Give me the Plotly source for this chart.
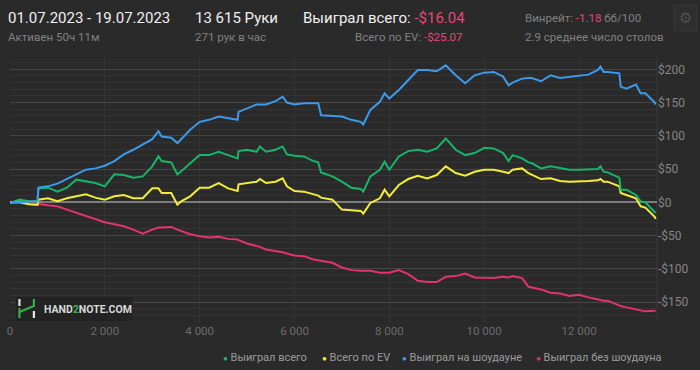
import plotly.graph_objects as go

hands = [0, 200, 400, 580, 600, 800, 1000, 1200, 1400, 1600, 1800, 2000, 2200, 2400, 2600, 2800,
         3000, 3130, 3200, 3400, 3530, 3600, 3800, 4000, 4200, 4400, 4600, 4800, 4820, 5000,
         5200, 5270, 5400, 5600, 5750, 5840, 6000, 6200, 6400, 6500, 6560, 6800, 7000, 7200,
         7400, 7450, 7600, 7800, 7900, 8000, 8200, 8400, 8600, 8800, 9000, 9190, 9400, 9600,
         9800, 10000, 10200, 10400, 10515, 10600, 10800, 10934, 11000, 11200, 11400, 11600,
         11800, 12000, 12200, 12400, 12453, 12520, 12600, 12850, 12880, 13000, 13200, 13300,
         13400, 13600, 13615]

showdown = [-1, 0, 1.5, 2, 22, 24, 28, 35, 41, 49, 51, 55, 62, 72, 79, 87,
            95, 107, 99, 97, 89, 94, 109, 121, 124, 129, 126, 124, 136, 141,
            147, 147, 147, 152, 159, 150, 147, 149, 149, 149, 131, 130, 129, 124,
            121, 117, 139, 151, 164, 156, 169, 184, 199, 199, 197, 206, 191, 179,
            191, 195, 196, 189, 176, 180, 186, 187, 187, 182, 191, 187,
            189, 190, 192, 199, 204, 196, 196, 194, 174, 171, 177, 164,
            164, 150, 147]
won_total = [-1, 4, 1.5, 2, 21, 22, 16, 22, 34, 31, 29, 24, 42, 41, 37, 39,
             54, 69, 62, 60, 42, 46, 59, 71, 71, 76, 71, 66, 77, 79,
             76, 84, 76, 79, 84, 72, 70, 69, 62, 60, 45, 39, 31, 22,
             20, 16, 39, 49, 61, 49, 69, 77, 79, 76, 81, 96, 79, 71,
             74, 82, 81, 74, 62, 71, 66, 60, 59, 51, 54, 51,
             49, 49, 50, 50, 54, 46, 45, 37, 19, 19, 11, 1.5,
             0, -14, -16.04]
ev_total = [0, 0, -3, -4, 4, 6, 1.5, 6, 9, 12, 7, 4, 9, 11, 6, 6,
            21, 21, 14, 14, -3.5, 1, 9, 22, 22, 29, 21, 17, 27, 29,
            31, 35, 29, 31, 36, 24, 17, 16, 12, 10, 7, 4, -11, -12.5,
            -13, -17, -1, 6, 19, 9, 26, 35, 40, 36, 41, 54, 44, 40,
            46, 49, 49, 46, 44, 49, 51, 44, 42, 35, 36, 32,
            31, 31, 32, 33, 35, 31, 31, 24, 14, 11, 6, -6,
            -8, -22, -25.07]
non_showdown = [0, 1.5, -1, -2, -2.5, -4.5, -6, -11, -16, -21, -26, -30, -33, -36, -41, -47,
                -41, -38, -38, -37, -41, -43, -48, -51, -53, -52, -55, -56, -57, -62,
                -66, -67, -71, -73, -75, -77, -80, -81, -86, -87, -88, -91, -98, -102,
                -103, -103, -103, -106, -106, -106, -102, -108, -118, -120, -120, -112, -111, -107,
                -113, -113, -114, -112, -113, -111, -114, -127, -128, -131, -136, -137,
                -141, -139, -143, -147, -147, -148, -148, -155, -156, -158, -161, -162,
                -164, -163, -163]

series_names = ["Выиграл всего", "Всего по EV", "Выиграл на шоудауне", "Выиграл без шоудауна"]
series_colors = ["#17b46a", "#f2ec3a", "#3c9aea", "#e3336f"]
series_values = [won_total, ev_total, showdown, non_showdown]

y_ticks = [-150, -100, -50, 0, 50, 100, 150, 200]
y_ticktext = ["-$150", "-$100", "-$50", "$0", "$50", "$100", "$150", "$200"]
x_ticks = [0, 2000, 4000, 6000, 8000, 10000, 12000]
x_ticktext = ["0", "2 000", "4 000", "6 000", "8 000", "10 000", "12 000"]

BG = "#2a2a2a"
L, R, T, B = 7, 657, 56, 322
W, H = 700, 370


def fx(px):
    return (px - L) / (R - L)


def fy(py):
    return (B - py) / (B - T)


fig = go.Figure()
for idx in [3, 1, 0, 2]:
    fig.add_trace(go.Scatter(x=hands, y=series_values[idx], mode="lines",
                             line=dict(color=series_colors[idx], width=2),
                             name=series_names[idx], showlegend=False,
                             hoverinfo="skip"))

fig.update_layout(
    width=W, height=H, autosize=False,
    margin=dict(l=L, r=W - R, t=T, b=H - B, pad=0),
    paper_bgcolor=BG, plot_bgcolor=BG,
    font=dict(family="Roboto", color="#8a8a8a", size=11),
    showlegend=False,
)
fig.update_xaxes(range=[0, 13645], tickvals=x_ticks, ticktext=x_ticktext,
                 showgrid=True, gridcolor="#353535", gridwidth=1,
                 zeroline=False, showline=False, ticks="",
                 tickfont=dict(color="#6a6a6a", size=11.5))
fig.update_yaxes(range=[-180, 220], side="right", tickvals=y_ticks, ticktext=y_ticktext,
                 showgrid=True, gridcolor="#464646", gridwidth=1,
                 minor=dict(dtick=10, tick0=0, showgrid=True, gridcolor="#343434", gridwidth=1),
                 zeroline=True, zerolinecolor="#7c7c7c", zerolinewidth=2,
                 showline=False, ticks="",
                 tickfont=dict(color="#858585", size=12))

fig.add_shape(type="line", xref="paper", yref="paper", x0=1, x1=1, y0=0, y1=1,
              line=dict(color="#383838", width=1), layer="below")

annotations = []


def ann(text, px, py, size, color="#8a8a8a", anchor="left"):
    annotations.append(dict(text=text, x=fx(px), y=fy(py), xref="paper", yref="paper",
                            xanchor=anchor, yanchor="middle", showarrow=False,
                            font=dict(family="Roboto", size=size, color=color)))


PINK = "#e8457a"
ann("01.07.2023 - 19.07.2023", 3, 18, 15, "#f0f0f0")
ann("Активен 50ч 11м", 3, 37, 11.5, "#808080")
ann("13 615 Руки", 191, 18, 15, "#f0f0f0")
ann("271 рук в час", 191, 37, 11.5, "#808080")
ann("Выиграл всего: <span style='color:%s'>-$16.04</span>" % PINK, 299, 18, 15, "#f0f0f0")
ann("Всего по EV: <span style='color:%s'>-$25.07</span>" % PINK, 464, 37, 11.5, "#808080", "right")
ann("Винрейт: <span style='color:%s'>-1.18</span> бб/100" % PINK, 522, 18, 11.5, "#808080")
ann("2.9 среднее число столов", 522, 37, 11.5, "#808080")

legend_pos = [222, 321, 402, 536]
for name, color, px in zip(series_names, series_colors, legend_pos):
    ann("<span style='color:%s;font-size:8px'>●</span> %s" % (color, name), px - 3, 357, 11, "#9a9a9a")

fig.add_shape(type="rect", xref="paper", yref="paper", x0=fx(674), x1=fx(697), y0=fy(31), y1=fy(5),
              line=dict(color="#363636", width=1), fillcolor="#2e2e2e")
annotations.append(dict(text="⚙", x=fx(685.5), y=fy(18), xref="paper", yref="paper",
                        xanchor="center", yanchor="middle", showarrow=False,
                        font=dict(family="DejaVu Sans", size=15, color="#505050")))

fig.add_shape(type="rect", xref="paper", yref="paper", x0=fx(13), x1=fx(130), y0=fy(321), y1=fy(297),
              line=dict(width=0), fillcolor="#232323")
logo_lines = [
    ((16.5, 299), (16.5, 306), "#e6e6e6"),
    ((16.5, 308), (16.5, 318), "#2fae4a"),
    ((16.5, 312), (31, 306), "#2fae4a"),
    ((31, 299), (31, 307), "#2fae4a"),
    ((31, 311), (31, 318), "#e6e6e6"),
]
for (x0, y0), (x1, y1), c in logo_lines:
    fig.add_shape(type="line", xref="paper", yref="paper", x0=fx(x0), x1=fx(x1), y0=fy(y0), y1=fy(y1),
                  line=dict(color=c, width=2.2))
annotations.append(dict(text="<b>HAND<span style='color:#3cb04f'>2</span>NOTE.COM</b>",
                        x=fx(39), y=fy(309), xref="paper", yref="paper",
                        xanchor="left", yanchor="middle", showarrow=False,
                        font=dict(family="Roboto", size=10.5, color="#d8d8d8")))

fig.update_layout(annotations=annotations)
fig.write_html("out.html", config={"displayModeBar": False},
               post_script="document.body.style.margin='0';document.body.style.background='%s';" % BG)
